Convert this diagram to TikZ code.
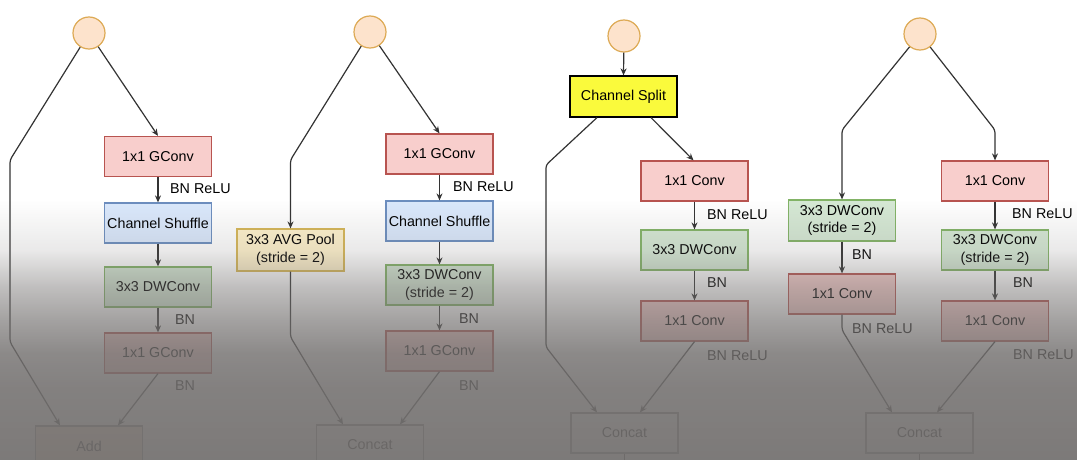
\documentclass[tikz,border=0pt]{standalone}
\usepackage{fontspec}
\setmainfont{Liberation Sans}
\usetikzlibrary{arrows.meta}
\definecolor{redf}{HTML}{F8CECC}\definecolor{redd}{HTML}{B85450}
\definecolor{bluef}{HTML}{DAE8FC}\definecolor{blued}{HTML}{6C8EBF}
\definecolor{greenf}{HTML}{D5E8D4}\definecolor{greend}{HTML}{82B366}
\definecolor{yelf}{HTML}{FFF2CC}\definecolor{yeld}{HTML}{D6B656}
\definecolor{splitf}{HTML}{FAFA3C}
\definecolor{circf}{HTML}{FDE3CC}\definecolor{circd}{HTML}{DDAA55}
\definecolor{linec}{HTML}{333333}
\definecolor{veil}{RGB}{115,112,111}
\begin{document}
\begin{tikzpicture}[x=1pt,y=-1pt,
  font=\fontsize{14.3}{17.5}\selectfont,
  box/.style={draw, line width=1.2pt, minimum width=107pt, minimum height=40pt, inner sep=0pt, align=center},
  redbox/.style={box, fill=redf, draw=redd},
  bluebox/.style={box, fill=bluef, draw=blued},
  greenbox/.style={box, fill=greenf, draw=greend},
  yelbox/.style={box, fill=yelf, draw=yeld},
  splitbox/.style={box, fill=splitf, draw=black},
  outbox/.style={box, fill=white, draw=gray},
  addbox/.style={box, fill=circf, draw=gray},
  inode/.style={circle, minimum size=32pt, inner sep=0pt, fill=circf, draw=circd, line width=1.2pt},
  lbl/.style={anchor=west, inner sep=0pt},
  ar/.style={draw=linec, line width=1.2pt, rounded corners=3pt, -{Stealth[length=7pt,width=6pt]}},
  ln/.style={draw=linec, line width=1.2pt}]
\useasboundingbox (0,0) rectangle (1077,460);
\begin{scope}
\clip (0,0) rectangle (1077,460);
\fill[white] (0,0) rectangle (1077,460);

% ---------- panel 1 ----------
\node[inode] (c1) at (89,33) {};
\node[redbox] (p1g1) at (158,156.5) {1x1 GConv};
\node[bluebox] (p1cs) at (158,223) {Channel Shuffle};
\node[greenbox] (p1dw) at (158,287) {3x3 DWConv};
\node[redbox] (p1g2) at (158,353) {1x1 GConv};
\node[addbox] (p1add) at (89,446) {Add};
\node[lbl] (l11) at (170,189) {BN ReLU};
\node[lbl] (l12) at (175,320) {BN};
\node[lbl] (l13) at (175,386) {BN};
\coordinate (a1) at (10,160);
\coordinate (a2) at (10,342);
\draw[ar] (c1) -- (p1g1.north);
\draw[ar] (p1g1) -- (p1cs);
\draw[ar] (p1cs) -- (p1dw);
\draw[ar] (p1dw) -- (p1g2);
\draw[ar] (c1) -- (a1) -- (a2) -- ([xshift=-29pt]p1add.north);
\draw[ar] (p1g2.south) -- ([xshift=29pt]p1add.north);

% ---------- panel 2 ----------
\node[inode] (c2) at (370,32) {};
\node[redbox] (p2g1) at (439.5,154) {1x1 GConv};
\node[bluebox] (p2cs) at (439.5,221) {Channel Shuffle};
\node[greenbox] (p2dw) at (439.5,285) {3x3 DWConv\\(stride = 2)};
\node[redbox] (p2g2) at (439.5,351) {1x1 GConv};
\node[yelbox, minimum height=42pt] (p2pool) at (290.5,250) {3x3 AVG Pool\\(stride = 2)};
\node[outbox] (p2cat) at (370,445) {Concat};
\node[lbl] (l21) at (453,187) {BN ReLU};
\node[lbl] (l22) at (459,319) {BN};
\node[lbl] (l23) at (459,386) {BN};
\coordinate (b1) at (290.5,160);
\coordinate (b2) at (290.5,337);
\draw[ar] (c2) -- (p2g1.north);
\draw[ar] (p2g1) -- (p2cs);
\draw[ar] (p2cs) -- (p2dw);
\draw[ar] (p2dw) -- (p2g2);
\draw[ar] (c2) -- (b1) -- (p2pool.north);
\draw[ar] (p2pool.south) -- (b2) -- ([xshift=-27pt]p2cat.north);
\draw[ar] (p2g2.south) -- ([xshift=30pt]p2cat.north);

% ---------- panel 3 ----------
\node[inode] (c3) at (624,36) {};
\node[splitbox, minimum height=41pt] (p3s) at (623.5,96.5) {Channel Split};
\node[redbox] (p3c1) at (694.5,181) {1x1 Conv};
\node[greenbox] (p3dw) at (694.5,250) {3x3 DWConv};
\node[redbox] (p3c2) at (694.5,321) {1x1 Conv};
\node[outbox] (p3cat) at (624.5,433) {Concat};
\node[lbl] (l31) at (707,215) {BN ReLU};
\node[lbl] (l32) at (707,283) {BN};
\node[lbl] (l33) at (707,356) {BN ReLU};
\coordinate (d1) at (546,165);
\coordinate (d2) at (546,347);
\coordinate (d3) at (624.5,470);
\draw[ar] (c3) -- (p3s.north);
\draw[ar] ([xshift=-26.5pt]p3s.south) -- (d1) -- (d2) -- ([xshift=-27.5pt]p3cat.north);
\draw[ar] ([xshift=27.5pt]p3s.south) -- ([xshift=-1pt]p3c1.north);
\draw[ar] (p3c1) -- (p3dw);
\draw[ar] (p3dw) -- (p3c2);
\draw[ar] (p3c2.south) -- ([xshift=15.5pt]p3cat.north);
\draw[ln] (p3cat.south) -- (d3);

% ---------- panel 4 ----------
\node[inode] (c4) at (920,34) {};
\node[redbox] (p4r1) at (995,181) {1x1 Conv};
\node[greenbox] (p4r2) at (995,250) {3x3 DWConv\\(stride = 2)};
\node[redbox] (p4r3) at (995,321) {1x1 Conv};
\node[greenbox, minimum height=41pt] (p4l1) at (842,220.5) {3x3 DWConv\\(stride = 2)};
\node[redbox] (p4l2) at (842,294) {1x1 Conv};
\node[outbox] (p4cat) at (919.5,433) {Concat};
\node[lbl] (l41) at (1012,214) {BN ReLU};
\node[lbl] (l42) at (1013,283) {BN};
\node[lbl] (l43) at (1013,355) {BN ReLU};
\node[lbl] (l44) at (852,255) {BN};
\node[lbl] (l45) at (852,329) {BN ReLU};
\coordinate (e1) at (842,130);
\coordinate (e2) at (995,130);
\coordinate (e3) at (842,330);
\coordinate (e4) at (919.5,470);
\draw[ar] (c4) -- (e1) -- (p4l1.north);
\draw[ar] (c4) -- (e2) -- (p4r1.north);
\draw[ar] (p4r1) -- (p4r2);
\draw[ar] (p4r2) -- (p4r3);
\draw[ar] (p4l1) -- (p4l2);
\draw[ar] (p4l2.south) -- (e3) -- ([xshift=-27.5pt]p4cat.north);
\draw[ar] (p4r3.south) -- ([xshift=17.5pt]p4cat.north);
\draw[ln] (p4cat.south) -- (e4);

% ---------- grey veil ----------
\foreach \ya/\oa/\yb/\ob in {200/0/250/0.15, 250/0.15/287/0.45, 287/0.45/320/0.65, 320/0.65/353/0.82, 353/0.82/386/0.88, 386/0.88/460/0.93}{
  \pgfmathtruncatemacro{\ye}{\yb-1}
  \foreach \yy in {\ya,...,\ye}{
    \pgfmathsetmacro{\opv}{\oa+(\ob-\oa)*(\yy-\ya)/(\yb-\ya)}
    \fill[veil, opacity=\opv] (0,\yy) rectangle (1077,\yy+1);
  }
}
\end{scope}
\end{tikzpicture}
\end{document}
